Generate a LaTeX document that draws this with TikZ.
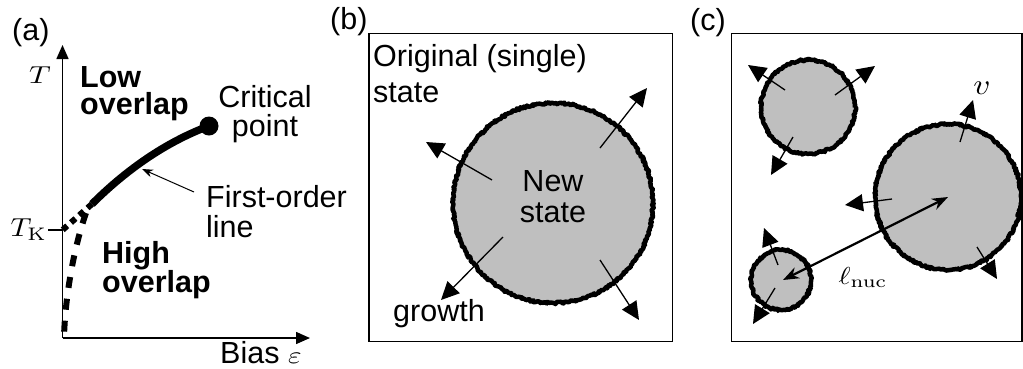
\documentclass[tikz,border=0pt]{standalone}
\usepackage{graphicx}
\usepackage[no-math]{fontspec}
\setmainfont{Liberation Sans}
\usetikzlibrary{arrows.meta,decorations.pathmorphing}
\newcommand\mymath[3]{\scalebox{#1}[#2]{\fontsize{10}{12}\selectfont$#3$}}
\begin{document}
\begin{tikzpicture}[x=1pt,y=-1pt,
  txt/.style={font=\fontsize{30.5}{36}\selectfont, inner sep=0pt, align=left},
  bld/.style={font=\fontsize{30.5}{27.5}\selectfont\bfseries, inner sep=0pt, align=left},
  mth/.style={inner sep=0pt},
  axisline/.style={line width=1.5pt, -{Triangle[length=14pt,width=12pt]}},
  blob/.style={fill=black!25, draw=black, line width=4.5pt, line join=round,
    decorate, decoration={random steps, segment length=1.3pt, amplitude=1.1pt}},
  growarrow/.style={line width=1.3pt, -{Triangle[length=18pt,width=17pt]}},
  frame/.style={draw, line width=1.3pt}]
\useasboundingbox (0,0) rectangle (1023,368);
\pgfmathsetseed{7}
% ---------- panel (a)
\node[txt, anchor=base west] (la) at (12,40) {(a)};
\coordinate (O) at (62.5,338);
\coordinate (ytip) at (62.5,45);
\coordinate (xtip) at (310,338);
\draw[axisline] (O) -- (ytip);
\draw[axisline] (O) -- (xtip);
\node[mth, anchor=base east] (T) at (51,83.5) {\mymath{3.0}{2.45}{T}};
\coordinate (tk) at (62.5,230);
\coordinate (tkl) at (48,230);
\draw[line width=1.2pt] (tk) -- (tkl);
\node[mth, anchor=base east] (TK) at (47,236.5) {\mymath{2.9}{2.6}{T_{\mathrm{K}}}};
\node[bld, anchor=north west] (low) at (80,66) {Low\\overlap};
\node[bld, anchor=north west] (high) at (102,241) {High\\overlap};
\coordinate (cp) at (209,126);
\coordinate (fe) at (92,204);
\draw[line width=7.5pt] (fe) .. controls (118,178) and (158,145) .. (cp);
\fill (cp) circle[radius=9.5pt];
\draw[line width=6pt, dash pattern=on 6pt off 5pt] (fe) -- (tk);
\coordinate (ds) at (86,213);
\coordinate (de) at (64,337);
\draw[line width=6pt, dash pattern=on 11pt off 11pt] (ds) .. controls (73,250) and (65,300) .. (de);
\node[txt, anchor=north, align=center, font=\fontsize{30.5}{29}\selectfont] (crit) at (265,85) {Critical\\point};
\node[txt, anchor=north west, font=\fontsize{30.5}{30}\selectfont] (fol) at (206,185) {First-order\\line};
\coordinate (fls) at (194,192);
\coordinate (flt) at (142,169);
\draw[line width=1pt, -{Stealth[length=11pt,width=8pt]}] (fls) -- (flt);
\node[txt, anchor=base west] (bias) at (220,363) {Bias \mymath{2.9}{2.4}{\varepsilon}};
% ---------- panel (b)
\node[txt, anchor=base west] (lb) at (330,29) {(b)};
\draw[frame] (369,33.5) rectangle (672.5,341.5);
\coordinate (cb) at (553,203);
\path[blob] (cb) circle[radius=100pt];
\node[txt, anchor=north west] (orig) at (373,44.5) {Original (single)\\state};
\node[txt, anchor=north, align=center, font=\fontsize{30.5}{31}\selectfont] (new) at (553,170) {New\\state};
\node[txt, anchor=base west] (growth) at (393,321) {growth};
\coordinate (b1s) at (600,148); \coordinate (b1e) at (647,88);
\coordinate (b2s) at (492,180); \coordinate (b2e) at (426,142);
\coordinate (b3s) at (503,237); \coordinate (b3e) at (441,300);
\coordinate (b4s) at (600,260); \coordinate (b4e) at (639,320);
\draw[growarrow] (b1s) -- (b1e);
\draw[growarrow] (b2s) -- (b2e);
\draw[growarrow] (b3s) -- (b3e);
\draw[growarrow] (b4s) -- (b4e);
% ---------- panel (c)
\node[txt, anchor=base west] (lc) at (690,30) {(c)};
\draw[frame] (731.5,33.5) rectangle (1022,341.5);
\coordinate (c1) at (808,107);
\coordinate (c2) at (948,197);
\coordinate (c3) at (781,280);
\path[blob] (c1) circle[radius=47pt];
\path[blob] (c2) circle[radius=73pt];
\path[blob] (c3) circle[radius=30pt];
\coordinate (a1s) at (785,90);  \coordinate (a1e) at (748,65);
\coordinate (a2s) at (835,95);  \coordinate (a2e) at (875,66);
\coordinate (a3s) at (793,137); \coordinate (a3e) at (771,175);
\coordinate (a4s) at (960,142); \coordinate (a4e) at (973,100);
\coordinate (a5s) at (892,199); \coordinate (a5e) at (845,205);
\coordinate (a6s) at (977,247); \coordinate (a6e) at (997,279);
\coordinate (a7s) at (778,265); \coordinate (a7e) at (764,228);
\coordinate (a8s) at (775,288); \coordinate (a8e) at (753,324);
\foreach \i in {1,...,8} {\draw[growarrow] (a\i s) -- (a\i e);}
\coordinate (l1) at (783,280);
\coordinate (l2) at (948,197);
\draw[line width=2.2pt, {Stealth[length=16pt,width=12pt]}-{Stealth[length=16pt,width=12pt]}] (l1) -- (l2);
\node[mth, anchor=base] (lnuc) at (863,284) {\mymath{2.9}{2.45}{\ell_{\mathrm{nuc}}}};
\node[mth, anchor=base] (v) at (982,94) {\mymath{3.3}{2.9}{v}};
\end{tikzpicture}
\end{document}
